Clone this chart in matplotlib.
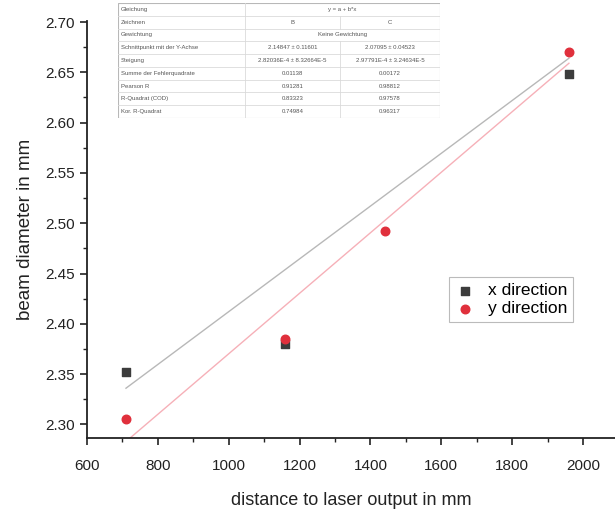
import numpy as np
import matplotlib
matplotlib.use("Agg")
import matplotlib.pyplot as plt
from matplotlib.ticker import MultipleLocator

plt.rcParams['font.family'] = ['Liberation Sans', 'DejaVu Sans']

# Messdaten
x_dist = [710, 1160, 1960]
x_diam = [2.352, 2.380, 2.648]
y_dist = [710, 1160, 1440, 1960]
y_diam = [2.305, 2.385, 2.492, 2.670]

# Fitgeraden
fit_x_dist = [710, 1960]
fit_x_diam = [2.336, 2.664]
fit_y_dist = [710, 1960]
fit_y_diam = [2.283, 2.659]

# Tabelle
table_rows = [
    ("Gleichung", "y = a + b*x", None),
    ("Zeichnen", "B", "C"),
    ("Gewichtung", "Keine Gewichtung", None),
    ("Schnittpunkt mit der Y-Achse", "2.14847 ± 0.11601", "2.07095 ± 0.04523"),
    ("Steigung", "2.82036E-4 ± 8.32664E-5", "2.97791E-4 ± 3.24634E-5"),
    ("Summe der Fehlerquadrate", "0.01138", "0.00172"),
    ("Pearson R", "0.91281", "0.98812"),
    ("R-Quadrat (COD)", "0.83323", "0.97578"),
    ("Kor. R-Quadrat", "0.74984", "0.96317"),
]

W, H = 615, 519
fig = plt.figure(figsize=(W / 100, H / 100), dpi=100)
ax = fig.add_axes([87 / W, (H - 438) / H, (W - 87) / W, (438 - 21) / H])

ax.plot(fit_x_dist, fit_x_diam, color='#b8b8b8', lw=1.0, zorder=1)
ax.plot(fit_y_dist, fit_y_diam, color='#f6b0b8', lw=1.0, zorder=1)
ax.scatter(x_dist, x_diam, marker='s', s=30, color='#3c3c3c', label='x direction', zorder=3)
ax.scatter(y_dist, y_diam, marker='o', s=38, color='#e0303c', label='y direction', zorder=3)

ax.set_xlim(600, 2090)
ax.set_ylim(2.2865, 2.701)
ax.xaxis.set_major_locator(MultipleLocator(200))
ax.xaxis.set_minor_locator(MultipleLocator(100))
ax.yaxis.set_major_locator(MultipleLocator(0.05))
ax.yaxis.set_minor_locator(MultipleLocator(0.025))
ax.yaxis.set_major_formatter(matplotlib.ticker.FormatStrFormatter('%.2f'))
ax.tick_params(which='major', direction='out', length=5, width=1.2, labelsize=11, colors='#222222')
ax.tick_params(axis='x', which='major', pad=10)
ax.tick_params(which='minor', direction='out', length=3, width=1.0, colors='#222222')
for s in ('top', 'right'):
    ax.spines[s].set_visible(False)
for s in ('left', 'bottom'):
    ax.spines[s].set_linewidth(1.3)
    ax.spines[s].set_color('#222222')

ax.set_xlabel('distance to laser output in mm', fontsize=13, labelpad=14, color='#222222')
ax.set_ylabel('beam diameter in mm', fontsize=13.5, labelpad=8, color='#222222')

leg = ax.legend(loc='lower left', bbox_to_anchor=((440 - 87) / 528, (438 - 331) / 417),
                fontsize=12.5, frameon=True, fancybox=False, borderpad=0.35,
                handletextpad=0.7, labelspacing=0.15, handlelength=1.2)
leg.get_frame().set_edgecolor('#aaaaaa')
leg.get_frame().set_linewidth(0.8)

# Tabelle oben links
tx0, tx1, tx2, tx3 = 118, 245, 340, 440
ty0, ty1 = 3, 118
tax = fig.add_axes([tx0 / W, (H - ty1) / H, (tx3 - tx0) / W, (ty1 - ty0) / H])
tax.set_xlim(tx0, tx3)
tax.set_ylim(ty1, ty0)
tax.axis('off')
tax.add_patch(plt.Rectangle((tx0, ty0), tx3 - tx0, ty1 - ty0, fill=True, facecolor='white',
                            edgecolor='#b8b8b8', lw=0.8))
rh = (ty1 - ty0) / len(table_rows)
for i, (name, b, c) in enumerate(table_rows):
    yt = ty0 + i * rh
    yc = yt + rh / 2
    if i > 0:
        tax.plot([tx0, tx3], [yt, yt], color='#dadada', lw=0.6)
    tax.plot([tx1, tx1], [yt, yt + rh], color='#dadada', lw=0.6)
    tax.text(tx0 + 3, yc, name, fontsize=4.3, color='#555555', va='center', ha='left')
    if c is None:
        tax.text((tx1 + tx3) / 2, yc, b, fontsize=4.3, color='#555555', va='center', ha='center')
    else:
        tax.plot([tx2, tx2], [yt, yt + rh], color='#dadada', lw=0.6)
        tax.text((tx1 + tx2) / 2, yc, b, fontsize=4.3, color='#555555', va='center', ha='center')
        tax.text((tx2 + tx3) / 2, yc, c, fontsize=4.3, color='#555555', va='center', ha='center')

fig.savefig('out.png', dpi=100)
